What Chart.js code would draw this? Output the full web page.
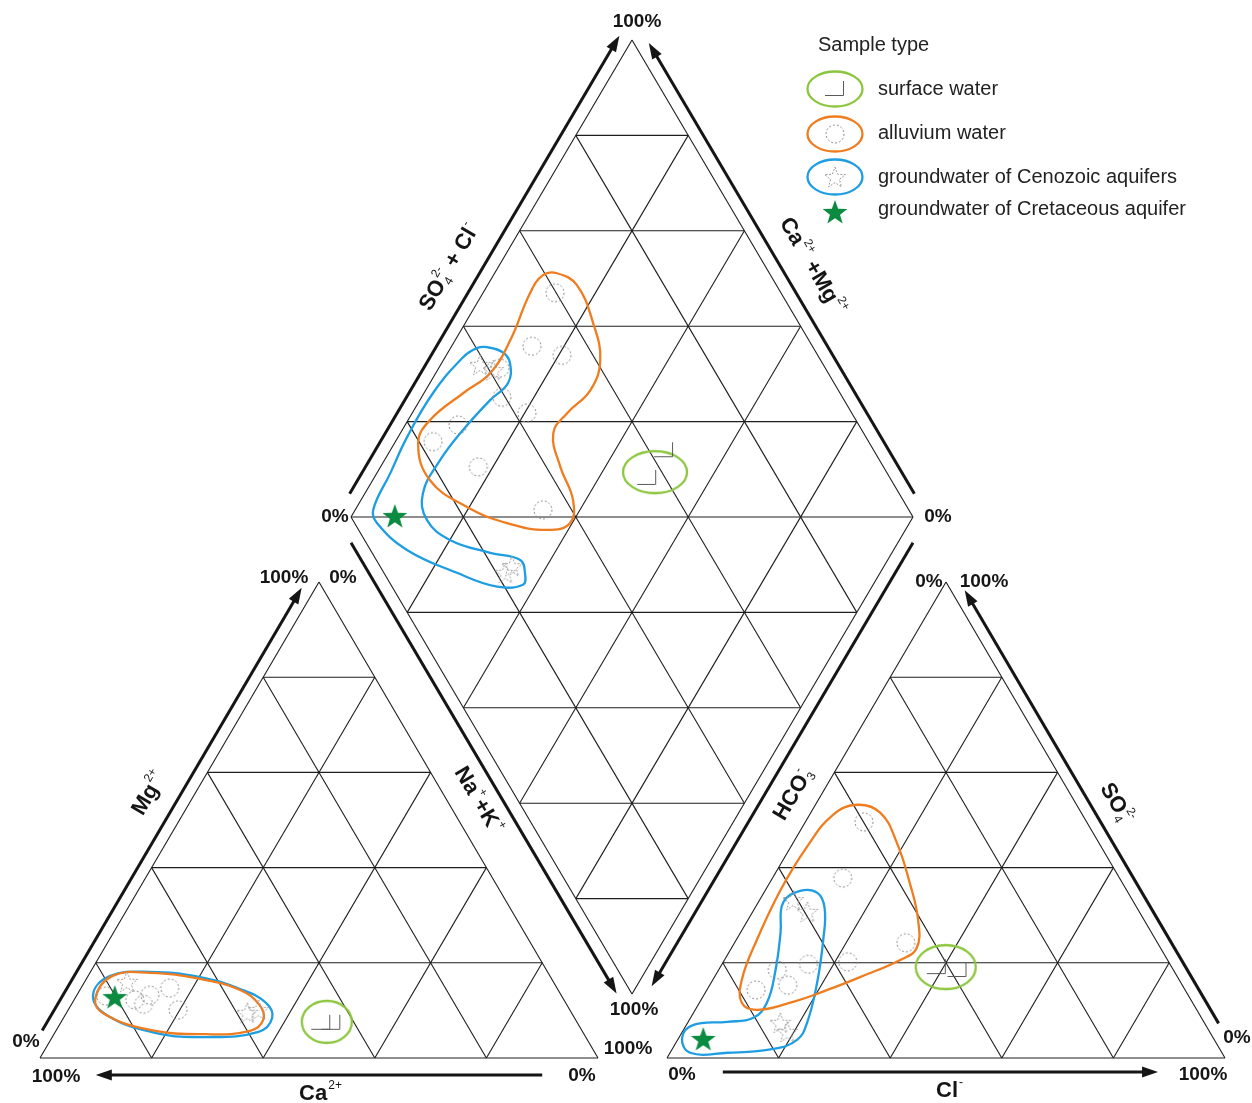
<!DOCTYPE html>
<html><head><meta charset="utf-8">
<script src="https://cdn.jsdelivr.net/npm/chart.js@4.4.1/dist/chart.umd.min.js"></script>
<style>html,body{margin:0;padding:0;background:#fff;overflow:hidden}#wrap{width:1252px;height:1103px}</style>
</head><body><div id="wrap"><canvas id="c" width="1252" height="1103"></canvas></div>
<script>
// ================= DATA (percent values) =================
const gridTicks = [20, 40, 60, 80];
const diamondLevels = [-80, -60, -40, -20, 0, 20, 40, 60, 80]; // (Na+K) - (SO4+Cl)

// Cation triangle: Ca2+, Mg2+, Na+ + K+
const catSurfCa = [45.9, 44.1];
const catSurfMg = [7.4, 7.4];
const catSurfNaK = [46.7, 48.5];
const catAlluvCa = [81.7, 76.9, 73.7, 69.4, 70.2, 75.8];
const catAlluvMg = [13.0, 12.2, 13.2, 14.7, 10.1, 11.3];
const catAlluvNaK = [5.3, 10.9, 13.1, 15.9, 19.7, 12.9];
const catCenoCa = [76.4, 58.1, 55.8];
const catCenoMg = [16.0, 9.5, 10.1];
const catCenoNaK = [7.6, 32.4, 34.1];
const catCretCa = [80.2];
const catCretMg = [12.8];
const catCretNaK = [7.0];

// Anion triangle: HCO3-, SO4 2-, Cl-
const anSurfSO4 = [19.1, 18.5];
const anSurfCl = [38.8, 42.8];
const anAlluvSO4 = [49.6, 37.8, 24.2, 20.2, 19.7, 18.5, 15.3, 14.3];
const anAlluvCl = [10.5, 12.6, 30.7, 22.3, 15.5, 10.5, 14.0, 8.8];
const anCenoSO4 = [33.2, 30.7, 7.4, 5.5];
const anCenoCl = [6.0, 9.8, 16.6, 18.8];
const anCretSO4 = [4.0];
const anCretCl = [4.5];

// Diamond: SO4+Cl (s), Na+K (n)
const diaSurfS = [56.8, 62.7];
const diaSurfN = [48.6, 48.7];
const diaAlluvS = [59.8, 50.1, 54.5, 42.1, 39.4, 42.2, 28.7, 22.5, 27.9, 34.9];
const diaAlluvN = [12.8, 14.3, 20.6, 10.9, 14.3, 20.4, 9.4, 6.7, 17.4, 33.4];
const diaCenoS = [38.9, 40.7, 21.6, 23.5];
const diaCenoN = [7.0, 9.9, 33.3, 33.8];
const diaCretS = [7.9];
const diaCretN = [7.7];

// Surface-water group centres (green ellipses)
const catSurfGroup = [7.6, 47.6];   // Mg, NaK
const anSurfGroup = [19.1, 40.4];   // SO4, Cl
const diaSurfGroup = [58.8, 49.4];  // s, n

// Enclosure outlines (percent pairs)
const catBlueLoop = [[13.2,2.9],[17.2,3.9],[18.1,10.7],[17.0,20.2],[14.5,28.6],[11.6,34.7],[8.4,37.4],[5.5,36.4],[4.4,27.7],[5.3,18.0],[9.0,7.5]]; // Mg, NaK
const catOrangeLoop = [[12.4,3.7],[17.2,4.3],[17.9,10.8],[16.6,20.4],[14.3,28.7],[11.1,33.8],[8.0,36.0],[5.7,34.8],[5.0,27.1],[5.9,16.8],[9.2,7.0]];
const anOrangeLoop = [[53.2,7.5],[51.5,12.5],[45.2,18.6],[36.8,25.1],[29.0,30.5],[23.1,33.2],[20.6,31.5],[17.0,26.1],[14.3,21.6],[11.8,16.7],[10.1,11.1],[11.6,7.6],[16.4,5.2],[24.8,3.7],[35.3,2.7],[44.3,2.9],[51.1,4.2]]; // SO4, Cl
const anBlueLoop = [[32.6,4.5],[35.1,6.3],[34.7,9.6],[31.5,12.5],[24.8,15.6],[15.8,19.0],[7.4,21.4],[3.8,21.4],[1.9,18.1],[1.1,10.3],[1.1,3.6],[4.2,0.6],[6.9,1.2],[7.6,7.0],[8.4,11.2],[11.6,12.1],[18.5,10.2],[26.3,7.2]];
const diaOrangeLoop = [[62.2,11.1],[64.5,15.9],[63.4,22.8],[60.8,27.9],[55.9,29.3],[49.4,27.6],[44.8,27.2],[42.5,32.0],[41.3,37.7],[38.3,39.6],[33.6,36.3],[27.1,28.4],[21.7,19.6],[17.9,10.2],[19.7,4.2],[24.2,3.9],[33.0,7.0],[39.9,9.7],[46.9,9.8],[55.3,8.4],[59.5,8.8]]; // s, n
const diaBlueLoop = [[42.0,6.4],[44.3,9.8],[44.4,12.2],[42.0,13.9],[37.0,12.5],[29.0,10.8],[21.8,9.9],[15.3,10.3],[13.2,13.8],[15.2,20.0],[21.0,28.5],[25.6,34.6],[25.1,36.8],[23.5,37.7],[18.7,33.3],[13.0,24.7],[6.5,13.4],[4.0,5.3],[4.7,3.2],[11.6,2.4],[18.4,1.6],[27.6,1.6],[36.7,3.2],[40.1,4.7]];

// ================= GEOMETRY / STYLE =================
const CAT = {x0: 40, y0: 1058, w: 558, h: 476};
const AN = {x0: 667, y0: 1058, w: 558, h: 476};
const DIA = {lx: 351, ly: 517, dx: 281, dy: 477};
const catXY = (mg, nak) => ({x: CAT.x0 + CAT.w * (nak + mg / 2) / 100, y: CAT.y0 - CAT.h * mg / 100});
const anXY = (so4, cl) => ({x: AN.x0 + AN.w * (cl + so4 / 2) / 100, y: AN.y0 - AN.h * so4 / 100});
const diaXY = (s, n) => ({x: DIA.lx + DIA.dx * (s + n) / 100, y: DIA.ly + DIA.dy * (n - s) / 100});

const COL = {grid: '#1e1e1e', orange: '#ef7d1f', blue: '#1e9de2', green: '#8cc63e', star: '#0a8b3f'};
const FONT = '"Liberation Sans", Arial, sans-serif';

function mk(w, h, fn) { const c = document.createElement('canvas'); c.width = w; c.height = h; fn(c.getContext('2d')); return c; }
function starPath(x, cx, cy, R, r) { x.beginPath(); for (let i = 0; i < 10; i++) { const a = -Math.PI / 2 + i * Math.PI / 5, rr = i % 2 ? r : R; x.lineTo(cx + rr * Math.cos(a), cy + rr * Math.sin(a)); } x.closePath(); }
const imgCorner = mk(22, 18, x => { x.strokeStyle = '#5a5a5a'; x.lineWidth = 1; x.beginPath(); x.moveTo(1, 15.5); x.lineTo(19.5, 15.5); x.lineTo(19.5, 1); x.stroke(); });
const imgCircle = mk(22, 22, x => { x.strokeStyle = '#8a8a8a'; x.lineWidth = 1; x.setLineDash([2, 2]); x.beginPath(); x.arc(11, 11, 9, 0, Math.PI * 2); x.stroke(); });
const imgStarOpen = mk(26, 26, x => { x.strokeStyle = '#9a9a9a'; x.lineWidth = 1; x.setLineDash([2, 1.5]); starPath(x, 13, 14, 11, 4.6); x.stroke(); });
const imgStarGreen = mk(30, 30, x => { x.fillStyle = COL.star; starPath(x, 15, 16, 13, 5.3); x.fill(); });
function ellImg(color, rx, ry) { return mk(2 * rx + 6, 2 * ry + 6, x => { x.strokeStyle = color; x.lineWidth = 2.3; x.beginPath(); x.ellipse(rx + 3, ry + 3, rx, ry, 0, 0, Math.PI * 2); x.stroke(); }); }

// ================= DATASETS =================
const ds = [];
function seg(a, b, w) { ds.push({data: [a, b], showLine: true, borderColor: COL.grid, borderWidth: w || 1.1, pointRadius: 0, tension: 0, order: 20}); }
function loop(pts, color) {
  const n = pts.length, data = [pts[n - 1], ...pts, pts[0], pts[1]];
  ds.push({data, showLine: true, borderColor: color, borderWidth: 2.3, pointRadius: 0, tension: 0.42, order: 10,
    segment: {borderColor: c => (c.p0DataIndex === 0 || c.p0DataIndex === n + 1) ? 'rgba(0,0,0,0)' : color}});
}
function marks(pts, img, order) { ds.push({data: pts, showLine: false, pointStyle: img, pointRadius: 5, order: order}); }

// triangles grid
[[catXY], [anXY]].forEach(([f]) => {
  seg(f(0, 0), f(0, 100)); seg(f(0, 100), f(100, 0)); seg(f(100, 0), f(0, 0));
  gridTicks.forEach(t => {
    seg(f(t, 0), f(t, 100 - t));
    seg(f(0, t), f(100 - t, t));
    seg(f(0, 100 - t), f(100 - t, 0));
  });
});
// diamond grid
seg(diaXY(0, 0), diaXY(100, 0)); seg(diaXY(100, 0), diaXY(100, 100)); seg(diaXY(100, 100), diaXY(0, 100)); seg(diaXY(0, 100), diaXY(0, 0));
gridTicks.forEach(t => { seg(diaXY(t, 0), diaXY(t, 100)); seg(diaXY(0, t), diaXY(100, t)); });
diamondLevels.forEach(d => { if (d < 0) seg(diaXY(-d, 0), diaXY(100, 100 + d)); else seg(diaXY(0, d), diaXY(100 - d, 100)); });

// enclosures
loop(catOrangeLoop.map(p => catXY(p[0], p[1])), COL.orange);
loop(catBlueLoop.map(p => catXY(p[0], p[1])), COL.blue);
loop(anOrangeLoop.map(p => anXY(p[0], p[1])), COL.orange);
loop(anBlueLoop.map(p => anXY(p[0], p[1])), COL.blue);
loop(diaOrangeLoop.map(p => diaXY(p[0], p[1])), COL.orange);
loop(diaBlueLoop.map(p => diaXY(p[0], p[1])), COL.blue);
marks([catXY(catSurfGroup[0], catSurfGroup[1])], ellImg(COL.green, 25, 21), 9);
marks([anXY(anSurfGroup[0], anSurfGroup[1])], ellImg(COL.green, 30, 22), 9);
marks([diaXY(diaSurfGroup[0], diaSurfGroup[1])], ellImg(COL.green, 32, 21), 9);

// samples
marks(catSurfMg.map((m, i) => catXY(m, catSurfNaK[i])), imgCorner, 3);
marks(catAlluvMg.map((m, i) => catXY(m, catAlluvNaK[i])), imgCircle, 3);
marks(catCenoMg.map((m, i) => catXY(m, catCenoNaK[i])), imgStarOpen, 3);
marks(catCretMg.map((m, i) => catXY(m, catCretNaK[i])), imgStarGreen, 1);
marks(anSurfSO4.map((s, i) => anXY(s, anSurfCl[i])), imgCorner, 3);
marks(anAlluvSO4.map((s, i) => anXY(s, anAlluvCl[i])), imgCircle, 3);
marks(anCenoSO4.map((s, i) => anXY(s, anCenoCl[i])), imgStarOpen, 3);
marks(anCretSO4.map((s, i) => anXY(s, anCretCl[i])), imgStarGreen, 1);
marks(diaSurfS.map((s, i) => diaXY(s, diaSurfN[i])), imgCorner, 3);
marks(diaAlluvS.map((s, i) => diaXY(s, diaAlluvN[i])), imgCircle, 3);
marks(diaCenoS.map((s, i) => diaXY(s, diaCenoN[i])), imgStarOpen, 3);
marks(diaCretS.map((s, i) => diaXY(s, diaCretN[i])), imgStarGreen, 1);

// ================= DECORATION PLUGIN =================
const axisLabels = [
  {parts: [{t: 'SO'}, {sub: '4', sup: '2-'}, {t: ' + Cl'}, {sup: '-'}], x: 448, y: 266, a: -59.5},
  {parts: [{t: 'Ca'}, {sup: '2+'}, {t: ' +Mg'}, {sup: '2+'}], x: 814, y: 266, a: 59.5},
  {parts: [{t: 'Mg'}, {sup: '2+'}], x: 148, y: 792, a: -59.5},
  {parts: [{t: 'Na'}, {sup: '+'}, {t: '+K'}, {sup: '+'}], x: 480, y: 800, a: 59.5},
  {parts: [{t: 'HCO'}, {sub: '3', sup: '-'}], x: 792, y: 793, a: -59.5},
  {parts: [{t: 'SO'}, {sub: '4', sup: '2-'}], x: 1118, y: 803, a: 59.5},
  {parts: [{t: 'Ca'}, {sup: '2+'}], x: 321, y: 1092, a: 0},
  {parts: [{t: 'Cl'}, {sup: '-'}], x: 950, y: 1089, a: 0}
];
const pctLabels = [
  ['100%', 637, 22], ['0%', 335, 517], ['0%', 938, 517], ['100%', 284, 578], ['0%', 343, 578],
  ['0%', 929, 582], ['100%', 984, 582], ['0%', 26, 1042], ['100%', 56, 1077], ['0%', 582, 1076],
  ['100%', 634, 1010], ['100%', 628, 1049], ['0%', 682, 1075], ['100%', 1203, 1075], ['0%', 1237, 1038]
];
const legendItems = [
  {ell: COL.green, img: imgCorner, text: 'surface water', ty: 95},
  {ell: COL.orange, img: imgCircle, text: 'alluvium water', ty: 139},
  {ell: COL.blue, img: imgStarOpen, text: 'groundwater of Cenozoic aquifers', ty: 183},
  {ell: null, img: imgStarGreen, text: 'groundwater of Cretaceous aquifer', ty: 215}
];
const legendCentres = [89, 134, 177, 212];

function drawRich(ctx, parts, cx, cy, ang) {
  const F = 'bold 22px ' + FONT, f = '12px ' + FONT;
  ctx.save(); ctx.translate(cx, cy); ctx.rotate(ang * Math.PI / 180);
  ctx.textBaseline = 'alphabetic'; ctx.textAlign = 'left'; ctx.fillStyle = '#151515';
  let w = 0;
  const ws = parts.map(p => {
    let ww;
    if (p.t !== undefined) { ctx.font = F; ww = ctx.measureText(p.t).width; }
    else { ctx.font = f; ww = Math.max(p.sup ? ctx.measureText(p.sup).width : 0, p.sub ? ctx.measureText(p.sub).width : 0) + 2; }
    w += ww; return ww;
  });
  let x = -w / 2; const base = 8;
  parts.forEach((p, i) => {
    if (p.t !== undefined) { ctx.font = F; ctx.fillText(p.t, x, base); }
    else { ctx.font = f; if (p.sup) ctx.fillText(p.sup, x + 1, base - 11); if (p.sub) ctx.fillText(p.sub, x + 1, base + 4); }
    x += ws[i];
  });
  ctx.restore();
}

const deco = {
  id: 'deco',
  afterDatasetsDraw(chart) {
    const ctx = chart.ctx, sx = chart.scales.x, sy = chart.scales.y;
    const P = p => ({x: sx.getPixelForValue(p.x), y: sy.getPixelForValue(p.y)});
    function arrow(q0, q1, centre, off) {
      const p0 = P(q0), p1 = P(q1), c = P(centre);
      let dx = p1.x - p0.x, dy = p1.y - p0.y; const L = Math.hypot(dx, dy); dx /= L; dy /= L;
      let nx = -dy, ny = dx;
      if (nx * ((p0.x + p1.x) / 2 - c.x) + ny * ((p0.y + p1.y) / 2 - c.y) < 0) { nx = -nx; ny = -ny; }
      const a = {x: p0.x + nx * off, y: p0.y + ny * off}, b = {x: p1.x + nx * off, y: p1.y + ny * off};
      const hl = 16, hw = 5.5, bx = b.x - dx * hl, by = b.y - dy * hl;
      ctx.save(); ctx.strokeStyle = '#151515'; ctx.fillStyle = '#151515'; ctx.lineWidth = 3;
      ctx.beginPath(); ctx.moveTo(a.x, a.y); ctx.lineTo(bx + dx * 2, by + dy * 2); ctx.stroke();
      ctx.beginPath(); ctx.moveTo(b.x, b.y); ctx.lineTo(bx + nx * hw, by + ny * hw); ctx.lineTo(bx - nx * hw, by - ny * hw); ctx.closePath(); ctx.fill();
      ctx.restore();
    }
    const cc = catXY(33, 33), ac = anXY(33, 33), dc = diaXY(50, 50);
    arrow(catXY(4.5, 0), catXY(97.5, 0), cc, 12);    // Mg
    arrow(catXY(0, 90), catXY(0, 10), cc, 17);       // Ca
    arrow(diaXY(0, 4), diaXY(0, 98.5), dc, 13);      // Na+K
    arrow(diaXY(3.5, 0), diaXY(99.5, 0), dc, 13);    // SO4+Cl
    arrow(diaXY(100, 96.5), diaXY(100, 2), dc, 13);  // Ca+Mg
    arrow(diaXY(96, 100), diaXY(3, 100), dc, 13);    // HCO3
    arrow(anXY(6, 94), anXY(97, 3), ac, 12);         // SO4
    arrow(anXY(0, 10), anXY(0, 88), ac, 14);         // Cl

    ctx.save();
    ctx.fillStyle = '#151515'; ctx.font = 'bold 19px ' + FONT; ctx.textAlign = 'center'; ctx.textBaseline = 'middle';
    pctLabels.forEach(([t, x, y]) => ctx.fillText(t, x, y));
    ctx.restore();
    axisLabels.forEach(l => drawRich(ctx, l.parts, l.x, l.y, l.a));

    // legend
    ctx.save();
    ctx.fillStyle = '#222'; ctx.font = '20px ' + FONT; ctx.textAlign = 'left'; ctx.textBaseline = 'alphabetic';
    ctx.fillText('Sample type', 818, 51);
    legendItems.forEach((it, i) => {
      const cy = legendCentres[i];
      if (it.ell) { ctx.strokeStyle = it.ell; ctx.lineWidth = 2.3; ctx.beginPath(); ctx.ellipse(835, cy, 27.5, 17.5, 0, 0, Math.PI * 2); ctx.stroke(); }
      ctx.drawImage(it.img, 835 - it.img.width / 2, cy - it.img.height / 2);
      ctx.fillText(it.text, 878, it.ty);
    });
    ctx.restore();
  }
};

new Chart(document.getElementById('c'), {
  type: 'scatter',
  data: {datasets: ds},
  options: {
    responsive: false, animation: false, devicePixelRatio: 1, events: [],
    layout: {padding: 0, autoPadding: false},
    plugins: {legend: {display: false}, tooltip: {enabled: false}},
    scales: {
      x: {type: 'linear', min: 0, max: 1252, display: false},
      y: {type: 'linear', min: 0, max: 1103, reverse: true, display: false}
    }
  },
  plugins: [deco]
});
</script></body></html>
